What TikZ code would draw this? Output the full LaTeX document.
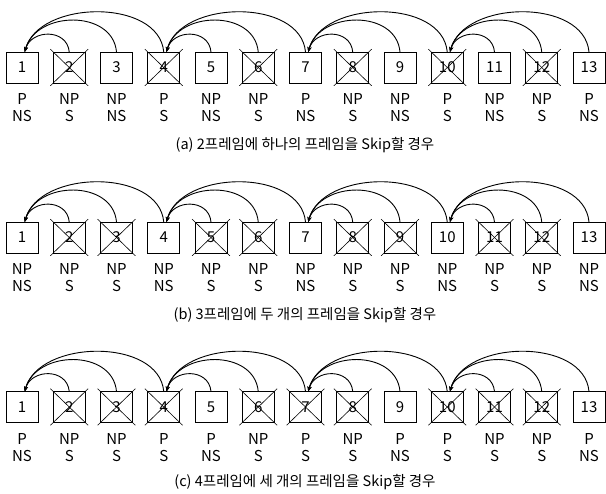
\documentclass[tikz,border=0pt]{standalone}
\usepackage{fontspec}
\setmainfont{Noto Sans CJK KR}
\usetikzlibrary{arrows.meta,positioning}

\begin{document}
\begin{tikzpicture}[
    x=1pt,
    y=1pt,
    node distance=15.25pt,
    framebox/.style={draw, line width=0.9pt, minimum width=32pt, minimum height=31pt, inner sep=0pt, outer sep=0pt, font=\fontsize{15}{17}\selectfont},
    xline/.style={line width=0.6pt, shorten <=-4pt, shorten >=-4pt},
    lab/.style={align=center, inner sep=0pt, font=\fontsize{15}{17}\selectfont},
    captext/.style={font=\fontsize{14.5}{17}\selectfont},
    jump/.style={line width=0.9pt, -{Stealth[length=5pt,width=4pt]}, out=95, in=75},
    back1/.style={jump, looseness=1.37},
    back2/.style={jump, looseness=1.2},
    back3/.style={jump, looseness=1.0}
  ]
    \useasboundingbox (0,0) rectangle (606,-494);

    % (a)
    \begin{scope}
      \node[framebox] (a1) at (22,-67.5) {1};
      \node[framebox, right=of a1] (a2) {2};
      \node[framebox, right=of a2] (a3) {3};
      \node[framebox, right=of a3] (a4) {4};
      \node[framebox, right=of a4] (a5) {5};
      \node[framebox, right=of a5] (a6) {6};
      \node[framebox, right=of a6] (a7) {7};
      \node[framebox, right=of a7] (a8) {8};
      \node[framebox, right=of a8] (a9) {9};
      \node[framebox, right=of a9] (a10) {10};
      \node[framebox, right=of a10] (a11) {11};
      \node[framebox, right=of a11] (a12) {12};
      \node[framebox, right=of a12] (a13) {13};
      \foreach \n in {a2,a4,a6,a8,a10,a12}
        \draw[xline] (\n.north west) edge (\n.south east) (\n.north east) edge (\n.south west);
      \node[lab, below=10pt of a1] (pa1) {P\\NS};
      \node[lab, below=10pt of a2] (pa2) {NP\\S};
      \node[lab, below=10pt of a3] (pa3) {NP\\NS};
      \node[lab, below=10pt of a4] (pa4) {P\\S};
      \node[lab, below=10pt of a5] (pa5) {NP\\NS};
      \node[lab, below=10pt of a6] (pa6) {NP\\S};
      \node[lab, below=10pt of a7] (pa7) {P\\NS};
      \node[lab, below=10pt of a8] (pa8) {NP\\S};
      \node[lab, below=10pt of a9] (pa9) {NP\\NS};
      \node[lab, below=10pt of a10] (pa10) {P\\S};
      \node[lab, below=10pt of a11] (pa11) {NP\\NS};
      \node[lab, below=10pt of a12] (pa12) {NP\\S};
      \node[lab, below=10pt of a13] (pa13) {P\\NS};
      \draw[back1] (a2.north) to (a1.80);
      \draw[back2] (a3.north) to (a1.80);
      \draw[back3] (a4.north) to (a1.80);
      \draw[back1] (a5.north) to (a4.80);
      \draw[back2] (a6.north) to (a4.80);
      \draw[back3] (a7.north) to (a4.80);
      \draw[back1] (a8.north) to (a7.80);
      \draw[back2] (a9.north) to (a7.80);
      \draw[back3] (a10.north) to (a7.80);
      \draw[back1] (a11.north) to (a10.80);
      \draw[back2] (a12.north) to (a10.80);
      \draw[back3] (a13.north) to (a10.80);
      \node[captext] (capa) at (305,-145) {(a) 2프레임에 하나의 프레임을 Skip할 경우};
    \end{scope}

    % (b)
    \begin{scope}[yshift=-170pt]
      \node[framebox] (b1) at (22,-67.5) {1};
      \node[framebox, right=of b1] (b2) {2};
      \node[framebox, right=of b2] (b3) {3};
      \node[framebox, right=of b3] (b4) {4};
      \node[framebox, right=of b4] (b5) {5};
      \node[framebox, right=of b5] (b6) {6};
      \node[framebox, right=of b6] (b7) {7};
      \node[framebox, right=of b7] (b8) {8};
      \node[framebox, right=of b8] (b9) {9};
      \node[framebox, right=of b9] (b10) {10};
      \node[framebox, right=of b10] (b11) {11};
      \node[framebox, right=of b11] (b12) {12};
      \node[framebox, right=of b12] (b13) {13};
      \foreach \n in {b2,b3,b5,b6,b8,b9,b11,b12}
        \draw[xline] (\n.north west) edge (\n.south east) (\n.north east) edge (\n.south west);
      \node[lab, below=10pt of b1] (pb1) {NP\\NS};
      \node[lab, below=10pt of b2] (pb2) {NP\\S};
      \node[lab, below=10pt of b3] (pb3) {NP\\S};
      \node[lab, below=10pt of b4] (pb4) {NP\\NS};
      \node[lab, below=10pt of b5] (pb5) {NP\\S};
      \node[lab, below=10pt of b6] (pb6) {NP\\S};
      \node[lab, below=10pt of b7] (pb7) {NP\\NS};
      \node[lab, below=10pt of b8] (pb8) {NP\\S};
      \node[lab, below=10pt of b9] (pb9) {NP\\S};
      \node[lab, below=10pt of b10] (pb10) {NP\\NS};
      \node[lab, below=10pt of b11] (pb11) {NP\\S};
      \node[lab, below=10pt of b12] (pb12) {NP\\S};
      \node[lab, below=10pt of b13] (pb13) {NP\\NS};
      \draw[back1] (b2.north) to (b1.80);
      \draw[back2] (b3.north) to (b1.80);
      \draw[back3] (b4.north) to (b1.80);
      \draw[back1] (b5.north) to (b4.80);
      \draw[back2] (b6.north) to (b4.80);
      \draw[back3] (b7.north) to (b4.80);
      \draw[back1] (b8.north) to (b7.80);
      \draw[back2] (b9.north) to (b7.80);
      \draw[back3] (b10.north) to (b7.80);
      \draw[back1] (b11.north) to (b10.80);
      \draw[back2] (b12.north) to (b10.80);
      \draw[back3] (b13.north) to (b10.80);
      \node[captext] (capb) at (305,-145) {(b) 3프레임에 두 개의 프레임을 Skip할 경우};
    \end{scope}

    % (c)
    \begin{scope}[yshift=-339.5pt]
      \node[framebox] (c1) at (22,-67.5) {1};
      \node[framebox, right=of c1] (c2) {2};
      \node[framebox, right=of c2] (c3) {3};
      \node[framebox, right=of c3] (c4) {4};
      \node[framebox, right=of c4] (c5) {5};
      \node[framebox, right=of c5] (c6) {6};
      \node[framebox, right=of c6] (c7) {7};
      \node[framebox, right=of c7] (c8) {8};
      \node[framebox, right=of c8] (c9) {9};
      \node[framebox, right=of c9] (c10) {10};
      \node[framebox, right=of c10] (c11) {11};
      \node[framebox, right=of c11] (c12) {12};
      \node[framebox, right=of c12] (c13) {13};
      \foreach \n in {c2,c3,c4,c6,c7,c8,c10,c11,c12}
        \draw[xline] (\n.north west) edge (\n.south east) (\n.north east) edge (\n.south west);
      \node[lab, below=11pt of c1] (pc1) {P\\NS};
      \node[lab, below=11pt of c2] (pc2) {NP\\S};
      \node[lab, below=11pt of c3] (pc3) {NP\\S};
      \node[lab, below=11pt of c4] (pc4) {P\\S};
      \node[lab, below=11pt of c5] (pc5) {P\\NS};
      \node[lab, below=11pt of c6] (pc6) {NP\\S};
      \node[lab, below=11pt of c7] (pc7) {P\\S};
      \node[lab, below=11pt of c8] (pc8) {NP\\S};
      \node[lab, below=11pt of c9] (pc9) {P\\NS};
      \node[lab, below=11pt of c10] (pc10) {P\\S};
      \node[lab, below=11pt of c11] (pc11) {NP\\S};
      \node[lab, below=11pt of c12] (pc12) {NP\\S};
      \node[lab, below=11pt of c13] (pc13) {P\\NS};
      \draw[back1] (c2.north) to (c1.80);
      \draw[back2] (c3.north) to (c1.80);
      \draw[back3] (c4.north) to (c1.80);
      \draw[back1] (c5.north) to (c4.80);
      \draw[back2] (c6.north) to (c4.80);
      \draw[back3] (c7.north) to (c4.80);
      \draw[back1] (c8.north) to (c7.80);
      \draw[back2] (c9.north) to (c7.80);
      \draw[back3] (c10.north) to (c7.80);
      \draw[back1] (c11.north) to (c10.80);
      \draw[back2] (c12.north) to (c10.80);
      \draw[back3] (c13.north) to (c10.80);
      \node[captext] (capc) at (305,-142.5) {(c) 4프레임에 세 개의 프레임을 Skip할 경우};
    \end{scope}
  \end{tikzpicture}
\end{document}
